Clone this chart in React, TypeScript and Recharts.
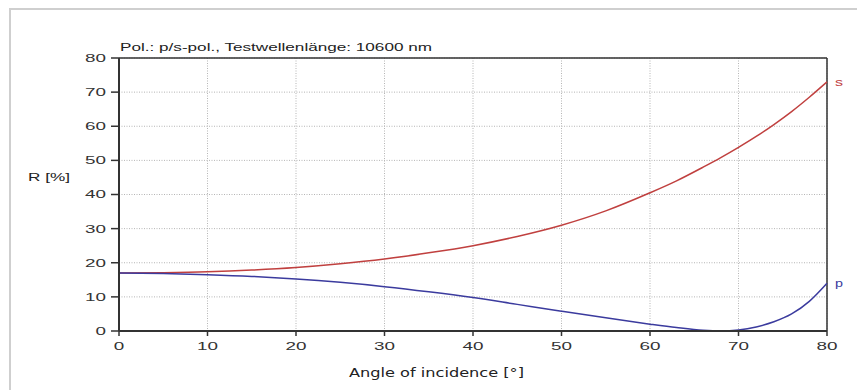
import React from 'react';
import {
  LineChart, Line, XAxis, YAxis, CartesianGrid, ReferenceLine,
} from 'recharts';

// ─── Data ─────────────────────────────────────────────────────────────────────
const angles = [0, 5, 10, 15, 20, 25, 30, 35, 40, 45, 50, 55, 60, 63, 66, 68, 70, 72, 74, 76, 78, 80];
const sPol = [17.0, 17.1, 17.35, 17.85, 18.6, 19.7, 21.1, 22.9, 25.0, 27.7, 31.0, 35.2, 40.5, 44.0, 48.0, 50.8, 53.8, 57.0, 60.5, 64.3, 68.5, 73.0];
const pPol = [17.0, 16.85, 16.5, 16.0, 15.25, 14.25, 13.0, 11.5, 9.8, 7.8, 5.8, 3.85, 2.0, 1.0, 0.2, 0.0, 0.3, 1.2, 2.7, 5.0, 8.7, 14.0];
const xTicks = [0, 10, 20, 30, 40, 50, 60, 70, 80];
const yTicks = [0, 10, 20, 30, 40, 50, 60, 70, 80];

const data = angles.map((a, i) => ({ angle: a, s: sPol[i], p: pPol[i] }));

const AXIS = '#333333';
const S_COLOR = '#c0403f';
const P_COLOR = '#3b3b9e';
const FONT = '"Liberation Sans", Arial, sans-serif';

// the original text is drawn wide, so stretch glyphs to the measured width
const XTick = (props: any) => {
  const label = String(props.payload.value);
  return (
    <text x={props.x} y={props.y} dy="0.71em" textAnchor="middle" fontSize={11} fill="#333" fontFamily={FONT}
      textLength={label.length * 10.5} lengthAdjust="spacingAndGlyphs">{label}</text>
  );
};

const YTick = (props: any) => {
  const label = String(props.payload.value);
  return (
    <text x={props.x} y={props.y} dy="0.36em" textAnchor="end" fontSize={11} fill="#333" fontFamily={FONT}
      textLength={label.length * 10.5} lengthAdjust="spacingAndGlyphs">{label}</text>
  );
};

// label only at the end of a curve
const endLabel = (name: string, color: string) => (props: any) => {
  if (props.index !== data.length - 1) return null;
  return (
    <text x={props.x + 8} y={props.y} dy="0.36em" fill={color} fontSize={11} fontFamily={FONT}
      textLength={8} lengthAdjust="spacingAndGlyphs">{name}</text>
  );
};

export default function App() {
  return (
    <div style={{ position: 'absolute', left: 0, top: 0, width: 857, height: 390, background: '#fff', overflow: 'hidden' }}>
      <div style={{
        position: 'absolute', left: 9, top: 8, width: 900, height: 420,
        borderLeft: '2px solid #cfcfcf', borderTop: '2px solid #cfcfcf',
      }} />
      <div style={{ position: 'absolute', left: 0, top: 0 }}>
        <LineChart width={857} height={390} data={data} margin={{ top: 58, right: 30, bottom: 29, left: 0 }}>
          <CartesianGrid stroke="#b5b5b5" strokeDasharray="1 1.5" />
          <XAxis
            dataKey="angle" type="number" domain={[0, 80]} ticks={xTicks}
            tick={<XTick />} tickSize={5} tickMargin={6}
            axisLine={{ stroke: AXIS, strokeWidth: 2 }} tickLine={{ stroke: AXIS, strokeWidth: 1.5 }}
          />
          <YAxis
            type="number" domain={[0, 80]} ticks={yTicks} width={119}
            tick={<YTick />} tickSize={8} tickMargin={5}
            axisLine={{ stroke: AXIS, strokeWidth: 2 }} tickLine={{ stroke: AXIS, strokeWidth: 1.5 }}
          />
          <ReferenceLine y={80} stroke={AXIS} strokeWidth={1.5} />
          <ReferenceLine x={80} stroke={AXIS} strokeWidth={1.5} />
          <Line type="monotone" dataKey="s" stroke={S_COLOR} strokeWidth={1.5} dot={false}
            isAnimationActive={false} label={endLabel('s', S_COLOR)} />
          <Line type="monotone" dataKey="p" stroke={P_COLOR} strokeWidth={1.5} dot={false}
            isAnimationActive={false} label={endLabel('p', P_COLOR)} />
          <text x={120} y={51} fontSize={11} fill="#222" fontFamily={FONT}
            textLength={312} lengthAdjust="spacingAndGlyphs">
            Pol.: p/s-pol., Testwellenlänge: 10600 nm
          </text>
          <text x={28} y={181} fontSize={11} fill="#222" fontFamily={FONT}
            textLength={42} lengthAdjust="spacingAndGlyphs">
            R [%]
          </text>
          <text x={349} y={377} fontSize={12} fill="#222" fontFamily='"DejaVu Sans", sans-serif'
            textLength={175} lengthAdjust="spacingAndGlyphs">
            Angle of incidence [°]
          </text>
        </LineChart>
      </div>
    </div>
  );
}
